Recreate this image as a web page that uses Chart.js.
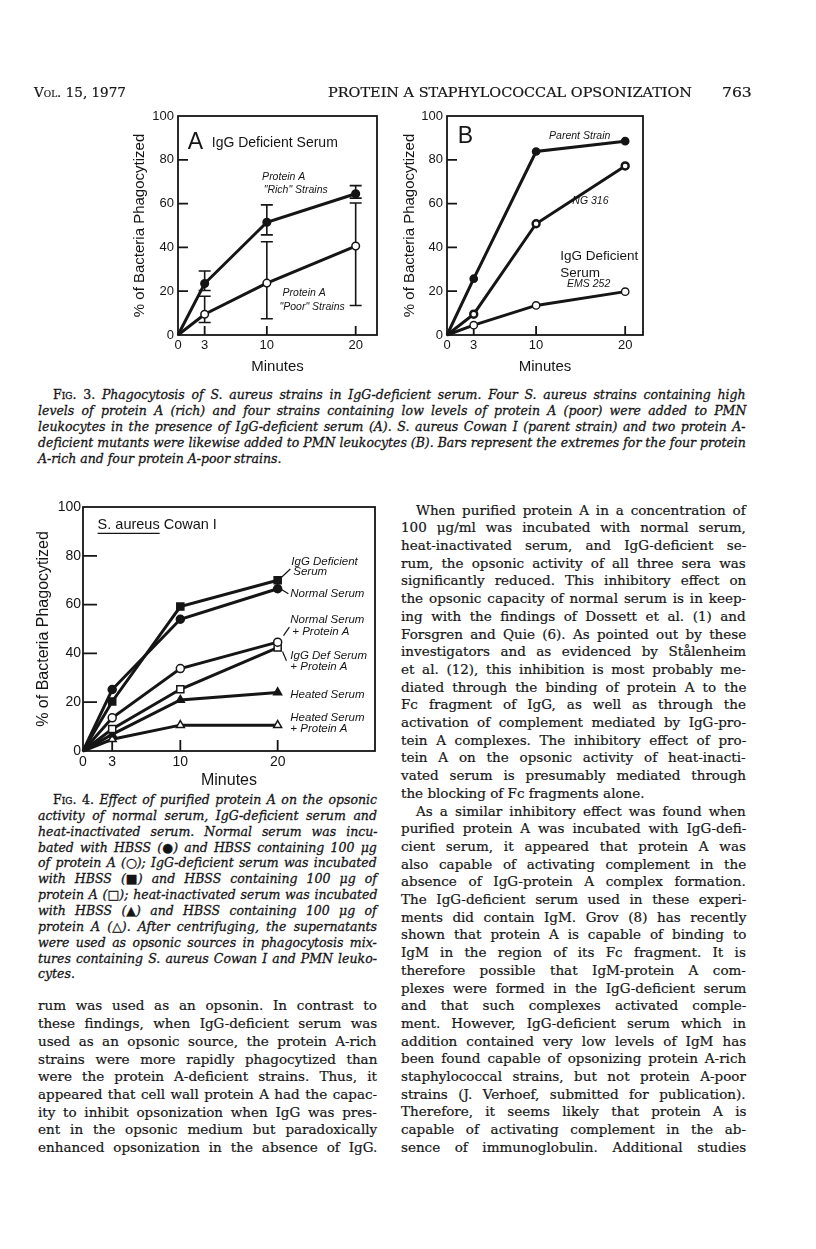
<!DOCTYPE html>
<html>
<head>
<meta charset="utf-8">
<title>Protein A staphylococcal opsonization</title>
<script src="https://cdn.jsdelivr.net/npm/chart.js@4.4.1/dist/chart.umd.min.js"></script>
<style>
  html, body { margin: 0; padding: 0; background: #fff; }
  #page { position: relative; width: 816px; height: 1249px; overflow: hidden; background: #fff; color: #151515; }
  .ln { position: absolute; white-space: nowrap; font-family: "DejaVu Serif", serif; font-size: 13.5px; line-height: 16px; height: 16px; transform-origin: 0 50%; -webkit-text-stroke: 0.2px #151515; }
  .cap { font-style: italic; font-size: 12.5px; -webkit-text-stroke: 0.3px #151515; }
  .hd { font-size: 13.5px; }
  .sc { font-variant: small-caps; font-style: normal; }
  .up { font-style: normal; }
  .fig { position: absolute; }
  .fig canvas { display: block; }
</style>
</head>
<body>
<div id="page">
  <div class="fig"><canvas id="chartA"></canvas></div>
  <div class="fig"><canvas id="chartB"></canvas></div>
  <div class="fig"><canvas id="chart4"></canvas></div>
</div>
<script>
const INK = '#151515';

// shared axes
const minutes = [0, 3, 10, 20];
const yTicks = [0, 20, 40, 60, 80, 100];

// Fig. 3A - IgG deficient serum, mean with extremes
const richMean = [0, 23.5, 51.5, 64.5];
const richLow = [null, 20.3, 45.7, 62.5];
const richHigh = [null, 29.2, 59.4, 68.2];
const poorMean = [0, 9.5, 23.7, 40.6];
const poorLow = [null, 5.7, 7.4, 13.5];
const poorHigh = [null, 17.7, 42.6, 60.3];

// Fig. 3B - Cowan I and two mutants
const parentStrain = [0, 25.7, 83.8, 88.5];
const ng316 = [0, 9.5, 50.8, 77.2];
const ems252 = [0, 4.5, 13.5, 19.8];

// Fig. 4 - S. aureus Cowan I
const igGDeficient = [0, 20.3, 59.2, 70];
const normalSerum = [0, 25.2, 54, 66.5];
const normalPlusA = [0, 13.6, 33.8, 44.6];
const igGDefPlusA = [0, 9, 25.3, 42.4];
const heatedSerum = [0, 6.8, 20.9, 24];
const heatedPlusA = [0, 4.8, 10.6, 10.6];

Chart.defaults.font.family = '"Liberation Sans", Arial, sans-serif';
Chart.defaults.color = INK;

function series(vals, style, fill, radius, bw) {
  return {
    data: minutes.map((m, i) => ({ x: m, y: vals[i] })),
    borderColor: INK,
    borderWidth: 3,
    tension: 0,
    pointStyle: style,
    pointRadius: minutes.map(m => (m === 0 ? 0 : radius)),
    pointBackgroundColor: fill,
    pointBorderColor: INK,
    pointBorderWidth: bw,
    clip: false
  };
}

function paper(extra) {
  return {
    id: 'paper',
    beforeDatasetsDraw(chart) {
      const { ctx, chartArea: a, scales: { x, y } } = chart;
      ctx.save();
      ctx.strokeStyle = INK;
      ctx.lineWidth = 1.8;
      ctx.strokeRect(a.left, a.top, a.right - a.left, a.bottom - a.top);
      ctx.beginPath();
      yTicks.slice(1, -1).forEach(v => {
        const py = y.getPixelForValue(v);
        ctx.moveTo(a.left, py);
        ctx.lineTo(a.left + extra.yTick, py);
      });
      minutes.slice(1).forEach(v => {
        const px = x.getPixelForValue(v);
        ctx.moveTo(px, a.bottom);
        ctx.lineTo(px, a.bottom - extra.xTick);
      });
      ctx.stroke();
      (extra.bars || []).forEach(b => {
        ctx.lineWidth = 1.6;
        b.lo.forEach((lo, i) => {
          if (lo === null) return;
          const px = x.getPixelForValue(minutes[i]);
          const p1 = y.getPixelForValue(lo);
          const p2 = y.getPixelForValue(b.hi[i]);
          ctx.beginPath();
          ctx.moveTo(px, p1); ctx.lineTo(px, p2);
          ctx.moveTo(px - 6, p1); ctx.lineTo(px + 6, p1);
          ctx.moveTo(px - 6, p2); ctx.lineTo(px + 6, p2);
          ctx.stroke();
        });
      });
      ctx.restore();
    },
    afterDatasetsDraw(chart) {
      const { ctx, scales: { x, y } } = chart;
      ctx.save();
      ctx.fillStyle = INK;
      ctx.strokeStyle = INK;
      ctx.textBaseline = 'middle';
      (extra.labels || []).forEach(l => {
        ctx.font = (l.style || '') + ' ' + l.size + 'px "Liberation Sans", Arial, sans-serif';
        ctx.textAlign = l.align || 'left';
        let px = x.getPixelForValue(l.x);
        const py = y.getPixelForValue(l.y);
        if (l.under) {
          const w = ctx.measureText(l.under).width;
          ctx.fillText(l.under, px, py);
          ctx.lineWidth = 1.2;
          ctx.beginPath();
          ctx.moveTo(px, py + l.size * 0.55);
          ctx.lineTo(px + w, py + l.size * 0.55);
          ctx.stroke();
          px += w;
        }
        ctx.fillText(l.text, px, py);
      });
      ctx.lineWidth = 1.2;
      (extra.leaders || []).forEach(s => {
        ctx.beginPath();
        ctx.moveTo(x.getPixelForValue(s[0]), y.getPixelForValue(s[1]));
        ctx.lineTo(x.getPixelForValue(s[2]), y.getPixelForValue(s[3]));
        ctx.stroke();
      });
      ctx.restore();
    }
  };
}

function makeChart(id, box, plot, xMax, opt, datasets, extra) {
  const cv = document.getElementById(id);
  cv.parentNode.style.left = box.left + 'px';
  cv.parentNode.style.top = box.top + 'px';
  cv.width = box.width;
  cv.height = box.height;
  return new Chart(cv, {
    type: 'line',
    data: { datasets },
    options: {
      responsive: false,
      animation: false,
      devicePixelRatio: 1,
      layout: {
        autoPadding: false,
        padding: { left: 0, bottom: 0, top: plot.top - box.top, right: box.left + box.width - plot.right }
      },
      plugins: { legend: { display: false }, tooltip: { enabled: false } },
      scales: {
        x: {
          type: 'linear', min: 0, max: xMax,
          grid: { display: false, drawTicks: false },
          border: { display: false },
          afterBuildTicks: s => { s.ticks = minutes.map(v => ({ value: v })); },
          afterFit: s => { s.height = box.top + box.height - plot.bottom; },
          ticks: { font: { size: opt.tick }, padding: opt.xPad, color: INK, maxRotation: 0, autoSkip: false },
          title: { display: true, text: 'Minutes', font: { size: opt.title }, padding: 0, color: INK }
        },
        y: {
          type: 'linear', min: 0, max: 100,
          grid: { display: false, drawTicks: false },
          border: { display: false },
          afterBuildTicks: s => { s.ticks = yTicks.map(v => ({ value: v })); },
          afterFit: s => { s.width = plot.left - box.left; },
          ticks: { font: { size: opt.tick }, padding: opt.yPad, color: INK },
          title: { display: true, text: '% of Bacteria Phagocytized', font: { size: opt.title }, padding: { top: opt.titlePad, bottom: 0 }, color: INK }
        }
      }
    },
    plugins: [paper(extra)]
  });
}

// Fig. 3A
makeChart('chartA',
  { left: 120, top: 100, width: 269, height: 276 },
  { left: 178, top: 116, right: 377, bottom: 335 },
  22.4, { tick: 13, title: 15, xPad: 3, yPad: 4, titlePad: 11 },
  [
    series(richMean, 'circle', INK, 3.8, 1.5),
    series(poorMean, 'circle', '#fff', 3.8, 1.5)
  ],
  {
    yTick: 10, xTick: 9,
    bars: [{ lo: richLow, hi: richHigh }, { lo: poorLow, hi: poorHigh }],
    labels: [
      { text: 'A', x: 1.1, y: 87.7, size: 23 },
      { text: 'IgG Deficient Serum', x: 3.8, y: 87.7, size: 14 },
      { text: 'Protein A', x: 11.9, y: 72.1, size: 10.5, style: 'italic', align: 'center' },
      { text: '"Rich" Strains', x: 13.25, y: 66.2, size: 10.5, style: 'italic', align: 'center' },
      { text: 'Protein A', x: 14.2, y: 19.2, size: 10.5, style: 'italic', align: 'center' },
      { text: '"Poor" Strains', x: 15.1, y: 12.8, size: 10.5, style: 'italic', align: 'center' }
    ]
  });

// Fig. 3B
makeChart('chartB',
  { left: 389, top: 100, width: 266, height: 276 },
  { left: 447, top: 116, right: 643, bottom: 335 },
  22, { tick: 13, title: 15, xPad: 3, yPad: 4, titlePad: 12 },
  [
    series(parentStrain, 'circle', INK, 3.6, 1.5),
    series(ng316, 'circle', '#fff', 3.5, 2.4),
    series(ems252, 'circle', '#fff', 3.7, 1.4)
  ],
  {
    yTick: 10, xTick: 9,
    labels: [
      { text: 'B', x: 1.2, y: 90.5, size: 23 },
      { text: 'Parent Strain', x: 14.9, y: 90.9, size: 10.5, style: 'italic', align: 'center' },
      { text: 'NG 316', x: 16.1, y: 61.2, size: 10.5, style: 'italic', align: 'center' },
      { text: 'IgG Deficient', x: 12.7, y: 35.8, size: 13.5 },
      { text: 'Serum', x: 12.7, y: 28.4, size: 13.5 },
      { text: 'EMS 252', x: 15.9, y: 23.1, size: 10.5, style: 'italic', align: 'center' }
    ]
  });

// Fig. 4
makeChart('chart4',
  { left: 30, top: 495, width: 355, height: 295 },
  { left: 83, top: 507, right: 375, bottom: 751 },
  30, { tick: 14, title: 16, xPad: 3, yPad: 2, titlePad: 4 },
  [
    series(igGDeficient, 'rect', INK, 5, 1.5),
    series(normalSerum, 'circle', INK, 4, 1.5),
    series(normalPlusA, 'circle', '#fff', 4, 1.5),
    series(igGDefPlusA, 'rect', '#fff', 5, 1.5),
    series(heatedSerum, 'triangle', INK, 4.6, 1.5),
    series(heatedPlusA, 'triangle', '#fff', 4.6, 1.5)
  ],
  {
    yTick: 14, xTick: 11,
    labels: [
      { text: ' Cowan I', under: 'S. aureus', x: 1.5, y: 92.5, size: 14.5 },
      { text: 'IgG Deficient', x: 21.4, y: 77.5, size: 11.5, style: 'italic' },
      { text: 'Serum', x: 21.6, y: 73.4, size: 11.5, style: 'italic' },
      { text: 'Normal Serum', x: 21.3, y: 64.3, size: 11.5, style: 'italic' },
      { text: 'Normal Serum', x: 21.3, y: 53.6, size: 11.5, style: 'italic' },
      { text: '+ Protein A', x: 21.5, y: 48.8, size: 11.5, style: 'italic' },
      { text: 'IgG Def Serum', x: 21.3, y: 39, size: 11.5, style: 'italic' },
      { text: '+ Protein A', x: 21.3, y: 34.5, size: 11.5, style: 'italic' },
      { text: 'Heated Serum', x: 21.3, y: 23.2, size: 11.5, style: 'italic' },
      { text: 'Heated Serum', x: 21.3, y: 13.6, size: 11.5, style: 'italic' },
      { text: '+ Protein A', x: 21.3, y: 8.9, size: 11.5, style: 'italic' }
    ],
    leaders: [[20.4, 71.2, 21.3, 74.6], [20.4, 66.2, 21.1, 64.4], [20.6, 47.3, 21.2, 50.8], [20.5, 40.8, 20.9, 37]]
  });

// ---- page text ----
const page = document.getElementById('page');

function line(html, cls, left, y, width, mode) {
  const el = document.createElement('div');
  el.className = 'ln ' + cls;
  el.innerHTML = html;
  el.style.left = left + 'px';
  el.style.top = (y - 8) + 'px';
  page.appendChild(el);
  if (mode === 'scale') {
    el.style.transform = 'scaleX(' + (width / el.offsetWidth) + ')';
  } else if (mode === 'justify') {
    const nat = el.offsetWidth;
    const gaps = (el.textContent.match(/ /g) || []).length;
    const ws = gaps ? (width - nat) / gaps : 0;
    if (ws >= -1) {
      el.style.wordSpacing = ws + 'px';
    } else {
      el.style.wordSpacing = '-1px';
      el.style.transform = 'scaleX(' + (width / el.offsetWidth) + ')';
    }
  }
}

// running head
line('<span class="sc">Vol.</span> 15, 1977', 'hd', 34, 92, 92, 'scale');
line('PROTEIN A STAPHYLOCOCCAL OPSONIZATION', 'hd', 328, 92, 364, 'scale');
line('763', 'hd', 722, 92, 30, 'scale');

const LEFT = 38, COL = 339, RIGHT_X = 401, RIGHT_W = 345, INDENT = 15;

const fig3Caption = [
  '<span class="sc up">Fig.</span><span class="up"> 3.</span> Phagocytosis of S. aureus strains in IgG-deficient serum. Four S. aureus strains containing high',
  'levels of protein A (rich) and four strains containing low levels of protein A (poor) were added to PMN',
  'leukocytes in the presence of IgG-deficient serum (A). S. aureus Cowan I (parent strain) and two protein A-',
  'deficient mutants were likewise added to PMN leukocytes (B). Bars represent the extremes for the four protein',
  'A-rich and four protein A-poor strains.'
];
fig3Caption.forEach((t, i) => {
  const ind = i === 0 ? INDENT : 0;
  line(t, 'cap', LEFT + ind, 395 + 16 * i, RIGHT_X + RIGHT_W - LEFT - ind, i < fig3Caption.length - 1 ? 'justify' : null);
});

const fig4Caption = [
  '<span class="sc up">Fig.</span><span class="up"> 4.</span> Effect of purified protein A on the opsonic',
  'activity of normal serum, IgG-deficient serum and',
  'heat-inactivated serum. Normal serum was incu-',
  'bated with HBSS (<span class="up">●</span>) and HBSS containing 100 μg',
  'of protein A (<span class="up">○</span>); IgG-deficient serum was incubated',
  'with HBSS (<span class="up">■</span>) and HBSS containing 100 μg of',
  'protein A (<span class="up">□</span>); heat-inactivated serum was incubated',
  'with HBSS (<span class="up">▲</span>) and HBSS containing 100 μg of',
  'protein A (<span class="up">△</span>). After centrifuging, the supernatants',
  'were used as opsonic sources in phagocytosis mix-',
  'tures containing S. aureus Cowan I and PMN leuko-',
  'cytes.'
];
fig4Caption.forEach((t, i) => {
  const ind = i === 0 ? INDENT : 0;
  line(t, 'cap', LEFT + ind, 800 + 15.85 * i, COL - ind, i < fig4Caption.length - 1 ? 'justify' : null);
});

const leftColumn = [
  'rum was used as an opsonin. In contrast to',
  'these findings, when IgG-deficient serum was',
  'used as an opsonic source, the protein A-rich',
  'strains were more rapidly phagocytized than',
  'were the protein A-deficient strains. Thus, it',
  'appeared that cell wall protein A had the capac-',
  'ity to inhibit opsonization when IgG was pres-',
  'ent in the opsonic medium but paradoxically',
  'enhanced opsonization in the absence of IgG.'
];
leftColumn.forEach((t, i) => line(t, '', LEFT, 1005.4 + 17.7 * i, COL, 'justify'));

const rightColumn = [
  'When purified protein A in a concentration of',
  '100 μg/ml was incubated with normal serum,',
  'heat-inactivated serum, and IgG-deficient se-',
  'rum, the opsonic activity of all three sera was',
  'significantly reduced. This inhibitory effect on',
  'the opsonic capacity of normal serum is in keep-',
  'ing with the findings of Dossett et al. (1) and',
  'Forsgren and Quie (6). As pointed out by these',
  'investigators and as evidenced by Stålenheim',
  'et al. (12), this inhibition is most probably me-',
  'diated through the binding of protein A to the',
  'Fc fragment of IgG, as well as through the',
  'activation of complement mediated by IgG-pro-',
  'tein A complexes. The inhibitory effect of pro-',
  'tein A on the opsonic activity of heat-inacti-',
  'vated serum is presumably mediated through',
  'the blocking of Fc fragments alone.',
  'As a similar inhibitory effect was found when',
  'purified protein A was incubated with IgG-defi-',
  'cient serum, it appeared that protein A was',
  'also capable of activating complement in the',
  'absence of IgG-protein A complex formation.',
  'The IgG-deficient serum used in these experi-',
  'ments did contain IgM. Grov (8) has recently',
  'shown that protein A is capable of binding to',
  'IgM in the region of its Fc fragment. It is',
  'therefore possible that IgM-protein A com-',
  'plexes were formed in the IgG-deficient serum',
  'and that such complexes activated comple-',
  'ment. However, IgG-deficient serum which in',
  'addition contained very low levels of IgM has',
  'been found capable of opsonizing protein A-rich',
  'staphylococcal strains, but not protein A-poor',
  'strains (J. Verhoef, submitted for publication).',
  'Therefore, it seems likely that protein A is',
  'capable of activating complement in the ab-',
  'sence of immunoglobulin. Additional studies'
];
const indented = [0, 17];
rightColumn.forEach((t, i) => {
  const ind = indented.includes(i) ? INDENT : 0;
  line(t, '', RIGHT_X + ind, 509.6 + 17.7 * i, RIGHT_W - ind, i === 16 ? null : 'justify');
});
</script>
</body>
</html>
